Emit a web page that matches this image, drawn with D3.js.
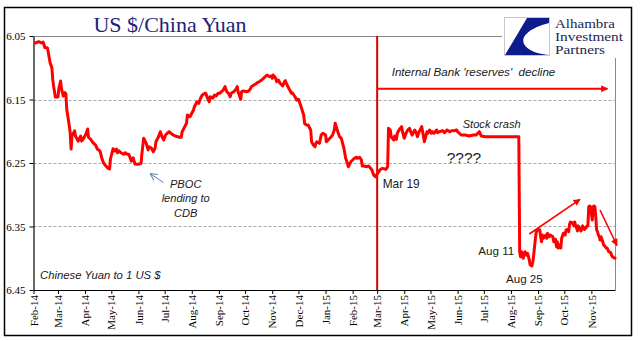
<!DOCTYPE html>
<html>
<head>
<meta charset="utf-8">
<script src="https://cdn.jsdelivr.net/npm/d3@7/dist/d3.min.js"></script>
<style>
  html, body { margin: 0; padding: 0; background: #fff; }
  svg { display: block; }
</style>
</head>
<body>
<svg id="chart" width="641" height="341"></svg>
<script>
// CNY per 1 USD, daily-ish observations
const dates = [
  "2014-02-03","2014-02-07","2014-02-10","2014-02-12","2014-02-14","2014-02-17","2014-02-20","2014-02-22","2014-02-23","2014-02-24",
  "2014-02-26","2014-03-01","2014-03-02","2014-03-04","2014-03-05","2014-03-07","2014-03-09","2014-03-10","2014-03-11","2014-03-14",
  "2014-03-15","2014-03-16","2014-03-17","2014-03-20","2014-03-21","2014-03-22","2014-03-24","2014-03-27","2014-03-28","2014-03-30",
  "2014-04-02","2014-04-04","2014-04-05","2014-04-07","2014-04-10","2014-04-13","2014-04-15","2014-04-18","2014-04-20","2014-04-22",
  "2014-04-24","2014-04-27","2014-04-29","2014-04-30","2014-05-03","2014-05-05","2014-05-07","2014-05-08","2014-05-10","2014-05-12",
  "2014-05-15","2014-05-17","2014-05-19","2014-05-21","2014-05-24","2014-05-26","2014-05-28","2014-05-30","2014-06-01","2014-06-04",
  "2014-06-05","2014-06-07","2014-06-10","2014-06-12","2014-06-13","2014-06-16","2014-06-18","2014-06-20","2014-06-21","2014-06-24",
  "2014-06-26","2014-06-28","2014-06-30","2014-07-02","2014-07-04","2014-07-06","2014-07-09","2014-07-11","2014-07-13","2014-07-16",
  "2014-07-18","2014-07-20","2014-07-21","2014-07-24","2014-07-26","2014-07-27","2014-07-30","2014-08-01","2014-08-03","2014-08-04",
  "2014-08-07","2014-08-09","2014-08-11","2014-08-13","2014-08-16","2014-08-17","2014-08-19","2014-08-21","2014-08-22","2014-08-25",
  "2014-08-27","2014-08-29","2014-08-31","2014-09-02","2014-09-04","2014-09-06","2014-09-08","2014-09-10","2014-09-12","2014-09-14",
  "2014-09-15","2014-09-18","2014-09-20","2014-09-22","2014-09-23","2014-09-26","2014-09-27","2014-09-29","2014-10-03","2014-10-05",
  "2014-10-07","2014-10-08","2014-10-11","2014-10-13","2014-10-15","2014-10-17","2014-10-20","2014-10-22","2014-10-24","2014-10-26",
  "2014-10-29","2014-10-31","2014-11-01","2014-11-02","2014-11-05","2014-11-06","2014-11-08","2014-11-10","2014-11-13","2014-11-15",
  "2014-11-16","2014-11-18","2014-11-21","2014-11-23","2014-11-24","2014-11-27","2014-11-29","2014-12-01","2014-12-02","2014-12-04",
  "2014-12-07","2014-12-08","2014-12-10","2014-12-12","2014-12-15","2014-12-16","2014-12-18","2014-12-20","2014-12-21","2014-12-22",
  "2014-12-25","2014-12-27","2014-12-29","2015-01-01","2015-01-02","2015-01-04","2015-01-07","2015-01-09","2015-01-11","2015-01-12",
  "2015-01-15","2015-01-17","2015-01-19","2015-01-22","2015-01-24","2015-01-26","2015-01-27","2015-01-30","2015-02-01","2015-02-03",
  "2015-02-05","2015-02-06","2015-02-09","2015-02-11","2015-02-12","2015-02-14","2015-02-17","2015-02-19","2015-02-20","2015-02-23",
  "2015-02-25","2015-02-27","2015-03-03","2015-03-04","2015-03-07","2015-03-11","2015-03-13","2015-03-14","2015-03-16","2015-03-17",
  "2015-03-20","2015-03-21","2015-03-23","2015-03-24","2015-03-26","2015-03-29","2015-03-30","2015-04-01","2015-04-03","2015-04-05",
  "2015-04-07","2015-04-09","2015-04-10","2015-04-13","2015-04-15","2015-04-16","2015-04-18","2015-04-21","2015-04-22","2015-04-24",
  "2015-04-27","2015-04-28","2015-04-30","2015-05-02","2015-05-03","2015-05-05","2015-05-08","2015-05-09","2015-05-11","2015-05-15",
  "2015-05-17","2015-05-19","2015-05-20","2015-05-23","2015-05-25","2015-05-28","2015-05-31","2015-06-01","2015-06-03","2015-06-05",
  "2015-06-10","2015-06-14","2015-06-19","2015-06-22","2015-06-26","2015-06-28","2015-07-03","2015-07-13","2015-07-24","2015-08-01",
  "2015-08-10","2015-08-11","2015-08-12","2015-08-13","2015-08-14","2015-08-15","2015-08-16","2015-08-17","2015-08-19","2015-08-20",
  "2015-08-21","2015-08-22","2015-08-23","2015-08-25","2015-08-26","2015-08-27","2015-08-28","2015-08-29","2015-08-30","2015-09-01",
  "2015-09-03","2015-09-04","2015-09-05","2015-09-06","2015-09-07","2015-09-10","2015-09-11","2015-09-12","2015-09-14","2015-09-15",
  "2015-09-18","2015-09-19","2015-09-21","2015-09-22","2015-09-23","2015-09-24","2015-09-26","2015-09-27","2015-09-28","2015-09-30",
  "2015-10-01","2015-10-02","2015-10-03","2015-10-05","2015-10-06","2015-10-07","2015-10-08","2015-10-09","2015-10-10","2015-10-12",
  "2015-10-13","2015-10-14","2015-10-15","2015-10-16","2015-10-17","2015-10-19","2015-10-20","2015-10-21","2015-10-22","2015-10-23",
  "2015-10-24","2015-10-26","2015-10-27","2015-10-28","2015-10-29","2015-10-30","2015-10-31","2015-11-02","2015-11-03","2015-11-04",
  "2015-11-05","2015-11-06","2015-11-07","2015-11-08","2015-11-09","2015-11-10","2015-11-11","2015-11-12","2015-11-14","2015-11-15",
  "2015-11-17","2015-11-18","2015-11-19","2015-11-20","2015-11-21","2015-11-23","2015-11-24","2015-11-25","2015-11-28"
];

const yuanPerDollar = [
  6.061,6.059,6.061,6.0595,6.068,6.069,6.092,6.100,6.118,6.129,
  6.146,6.146,6.133,6.121,6.133,6.1445,6.139,6.141,6.165,6.192,
  6.203,6.228,6.2075,6.1995,6.2075,6.210,6.2155,6.2075,6.2155,6.212,
  6.2043,6.1965,6.210,6.212,6.218,6.2217,6.228,6.231,6.2417,6.2495,
  6.2536,6.258,6.2595,6.2437,6.2275,6.231,6.228,6.2338,6.231,6.2338,
  6.2363,6.2338,6.2363,6.2363,6.247,6.2417,6.2517,6.252,6.252,6.2505,
  6.235,6.211,6.219,6.2295,6.2243,6.2269,6.2322,6.2269,6.2165,6.2086,
  6.2007,6.2086,6.2138,6.206,6.2032,6.2007,6.2043,6.206,6.2075,6.2086,
  6.2095,6.2095,6.2007,6.1928,6.1875,6.1744,6.1771,6.1717,6.1665,6.1613,
  6.1535,6.156,6.1481,6.1429,6.1402,6.1402,6.1481,6.1535,6.1456,6.1481,
  6.1429,6.1445,6.1402,6.1402,6.1377,6.135,6.1298,6.1377,6.1402,6.1456,
  6.1402,6.1377,6.135,6.1298,6.1377,6.1497,6.1377,6.1366,6.1377,6.1366,
  6.1335,6.1298,6.1272,6.1256,6.1235,6.122,6.1193,6.1166,6.1141,6.1114,
  6.1141,6.113,6.1166,6.1114,6.1166,6.122,6.1193,6.1245,6.1287,6.122,
  6.1204,6.1272,6.135,6.1402,6.1393,6.1456,6.1508,6.1497,6.1535,6.1613,
  6.1744,6.1875,6.1902,6.1902,6.198,6.2165,6.2217,6.2243,6.219,6.2165,
  6.219,6.206,6.2032,6.206,6.2165,6.2138,6.2095,6.206,6.198,6.1875,
  6.2007,6.2086,6.2111,6.2269,6.2426,6.2505,6.2558,6.2479,6.2453,6.2426,
  6.241,6.2426,6.241,6.2453,6.2547,6.2547,6.2558,6.2547,6.2558,6.261,
  6.2689,6.2716,6.2637,6.261,6.2584,6.26,6.2558,6.1953,6.198,6.2086,
  6.2138,6.2075,6.2127,6.2032,6.198,6.1928,6.2007,6.2111,6.2032,6.198,
  6.1953,6.2032,6.206,6.198,6.2032,6.2086,6.2007,6.1928,6.2007,6.2165,
  6.2007,6.2032,6.198,6.2032,6.2007,6.2032,6.198,6.2023,6.2007,6.1991,
  6.2023,6.1991,6.198,6.2007,6.1991,6.1991,6.198,6.2007,6.2032,6.206,
  6.206,6.2075,6.206,6.206,6.2007,6.2075,6.2086,6.2086,6.2086,6.2086,
  6.2086,6.3897,6.3975,6.3897,6.395,6.400,6.395,6.3897,6.395,6.3922,
  6.3975,6.4028,6.4106,6.4122,6.4055,6.395,6.3818,6.3686,6.3582,6.3545,
  6.3555,6.366,6.374,6.3634,6.3686,6.3634,6.3686,6.3608,6.366,6.3634,
  6.366,6.374,6.3702,6.3818,6.374,6.384,6.379,6.384,6.3686,6.3608,
  6.3608,6.3634,6.3555,6.3545,6.3582,6.3465,6.343,6.3438,6.3438,6.349,
  6.343,6.349,6.3516,6.357,6.349,6.3545,6.357,6.3545,6.349,6.3516,
  6.3545,6.3516,6.349,6.349,6.3188,6.3177,6.3188,6.3398,6.3188,6.3177,
  6.3188,6.3345,6.3555,6.3581,6.3634,6.366,6.3713,6.366,6.374,6.379,
  6.3818,6.384,6.384,6.387,6.3897,6.391,6.395,6.3975,6.400
];

const yTickValues = [6.05, 6.15, 6.25, 6.35, 6.45];
const gridValues = [6.15, 6.25, 6.35];
const axisStart = "2014-02-01";
const axisEnd = "2015-11-28";
const markerDate = "2015-03-01";
const logoLines = ["Alhambra", "Investment", "Partners"];
const pbocLines = ["PBOC", "lending to", "CDB"];

const parse = d3.timeParse("%Y-%m-%d");
const series = dates.map((d, i) => ({ date: parse(d), value: yuanPerDollar[i] }));

const svg = d3.select("#chart");
const W = 641, H = 341;
const plot = { left: 33.5, right: 615, top: 36, bottom: 290 };

const x = d3.scaleTime()
  .domain([parse(axisStart), parse(axisEnd)])
  .range([plot.left, plot.right]);
const y = d3.scaleLinear()
  .domain([6.05, 6.45])
  .range([plot.top, plot.bottom]);

const red = "#ff0000";
const serif = "'Liberation Serif', 'Times New Roman', serif";
const sans = "'Liberation Sans', Arial, sans-serif";

svg.append("rect").attr("width", W).attr("height", H).attr("fill", "#fff");

// arrowheads
const defs = svg.append("defs");
defs.append("marker")
  .attr("id", "headRed")
  .attr("viewBox", "0 0 10 10").attr("refX", 9).attr("refY", 5)
  .attr("markerUnits", "userSpaceOnUse")
  .attr("markerWidth", 8).attr("markerHeight", 7)
  .attr("orient", "auto")
  .append("path").attr("d", "M0,0 L10,5 L0,10 Z").attr("fill", red);
defs.append("marker")
  .attr("id", "headBlue")
  .attr("viewBox", "0 0 10 10").attr("refX", 9).attr("refY", 5)
  .attr("markerUnits", "userSpaceOnUse")
  .attr("markerWidth", 7).attr("markerHeight", 8)
  .attr("orient", "auto")
  .append("path").attr("d", "M0,0 L10,5 L0,10").attr("fill", "none")
  .attr("stroke", "#5a7cb0").attr("stroke-width", 1.4);

// outer frame
svg.append("rect")
  .attr("x", 4.5).attr("y", 7.5).attr("width", 627).attr("height", 328)
  .attr("fill", "none").attr("stroke", "#000").attr("stroke-width", 1.5);

// gridlines
svg.append("g").selectAll("line").data(gridValues).join("line")
  .attr("x1", plot.left).attr("x2", plot.right)
  .attr("y1", d => Math.round(y(d)) + 0.5).attr("y2", d => Math.round(y(d)) + 0.5)
  .attr("stroke", "#a8a8a8").attr("stroke-dasharray", "3,2");

// plot-area border (top and right)
svg.append("path")
  .attr("d", `M${plot.left},${plot.top + 0.5} H${plot.right + 0.5} V${plot.bottom}`)
  .attr("fill", "none").attr("stroke", "#8a8a8a").attr("stroke-width", 1);

// title
svg.append("text")
  .attr("x", 170).attr("y", 31.5).attr("text-anchor", "middle")
  .attr("font-family", serif).attr("font-size", 22)
  .attr("fill", "#1c237a")
  .text("US $/China Yuan");

// axes
const xAxis = d3.axisBottom(x)
  .tickValues(d3.timeMonth.range(parse(axisStart), parse(axisEnd)))
  .tickFormat(d3.timeFormat("%b-%y"))
  .tickSize(4).tickSizeOuter(0);
const gx = svg.append("g").attr("transform", `translate(0,${plot.bottom})`).call(xAxis);
gx.selectAll("text")
  .attr("transform", "rotate(-90)")
  .attr("x", -5).attr("y", 0).attr("dy", "0.33em")
  .attr("text-anchor", "end");

const yAxis = d3.axisLeft(y)
  .tickValues(yTickValues)
  .tickFormat(d3.format(".2f"))
  .tickSize(4).tickSizeOuter(0);
const gy = svg.append("g").attr("transform", `translate(${plot.left},0)`).call(yAxis);
gy.selectAll("text").attr("x", -8).attr("dy", "0.35em");

[gx, gy].forEach(g => {
  g.attr("font-family", serif).attr("font-size", 11);
  g.selectAll("text").attr("fill", "#000");
  g.selectAll("line").attr("stroke", "#000");
  g.select(".domain").attr("stroke", "#000").attr("stroke-width", 1.2);
});

// marker for March 2015
const xm = x(parse(markerDate));
svg.append("line")
  .attr("x1", xm).attr("x2", xm).attr("y1", plot.top).attr("y2", plot.bottom)
  .attr("stroke", "#d90000").attr("stroke-width", 2);

// reserves-decline arrow
svg.append("line")
  .attr("x1", xm).attr("x2", 607.5).attr("y1", 88.7).attr("y2", 88.7)
  .attr("stroke", red).attr("stroke-width", 2)
  .attr("marker-end", "url(#headRed)");

// series line
const line = d3.line().x(d => x(d.date)).y(d => y(d.value)).curve(d3.curveLinear);
svg.append("path")
  .datum(series)
  .attr("d", line)
  .attr("fill", "none").attr("stroke", red).attr("stroke-width", 3)
  .attr("stroke-linejoin", "round").attr("stroke-linecap", "round");

// trend arrows after the devaluation
svg.append("line")
  .attr("x1", 529.3).attr("y1", 234).attr("x2", 580).attr("y2", 199.3)
  .attr("stroke", red).attr("stroke-width", 1.6)
  .attr("marker-end", "url(#headRed)");
svg.append("line")
  .attr("x1", 600).attr("y1", 210).attr("x2", 617).attr("y2", 245.5)
  .attr("stroke", red).attr("stroke-width", 1.6)
  .attr("marker-end", "url(#headRed)");

// PBOC pointer
svg.append("line")
  .attr("x1", 163.5).attr("y1", 182.5).attr("x2", 150.7).attr("y2", 174)
  .attr("stroke", "#5a7cb0").attr("stroke-width", 1)
  .attr("marker-end", "url(#headBlue)");

// annotations
const note = (txt, xx, yy, opts = {}) => svg.append("text")
  .attr("x", xx).attr("y", yy)
  .attr("font-family", sans)
  .attr("font-size", opts.size || 11.3)
  .attr("font-style", opts.italic ? "italic" : "normal")
  .attr("text-anchor", opts.anchor || "start")
  .attr("fill", "#1a1a1a")
  .style("white-space", "pre")
  .text(txt);

note("Internal Bank 'reserves'  decline", 391.7, 76, { italic: true, size: 11.6 });
note("Stock crash", 462.7, 128.3, { italic: true, size: 11.1 });
note("????", 446.7, 163.3, { size: 15.5 });
note("Mar 19", 382.7, 188.3, { size: 11.9 });
note("Aug 11", 478.3, 255, { size: 11.6 });
note("Aug 25", 506, 283.3, { size: 11.6 });
note("Chinese Yuan to 1 US $", 40, 279.3, { italic: true, size: 11.3 });
pbocLines.forEach((t, i) => note(t, 185.7, 187.5 + i * 14.8, { italic: true, size: 11.1, anchor: "middle" }));

// logo block
const logo = svg.append("g");
logo.append("rect").attr("x", 502).attr("y", 9).attr("width", 128).attr("height", 49).attr("fill", "#fff");
logo.append("rect").attr("x", 504.5).attr("y", 17.5).attr("width", 45).attr("height", 38)
  .attr("fill", "#fff").attr("stroke", "#c8c8c8").attr("stroke-width", 1);
logo.append("path")
  .attr("d", "M527,18 L549,18 L549,23 C533,27 520,35 524,44 C528,51 538,54 549,55 L505,55 Z")
  .attr("fill", "#0d1c8c");
const logoWidths = [60, 68, 50];
logoLines.forEach((t, i) => logo.append("text")
  .attr("x", 555).attr("y", 27.8 + i * 13.2)
  .attr("font-family", serif).attr("font-size", 11.8)
  .attr("textLength", logoWidths[i]).attr("lengthAdjust", "spacingAndGlyphs")
  .attr("fill", "#1b1f4f")
  .text(t));
</script>
</body>
</html>
